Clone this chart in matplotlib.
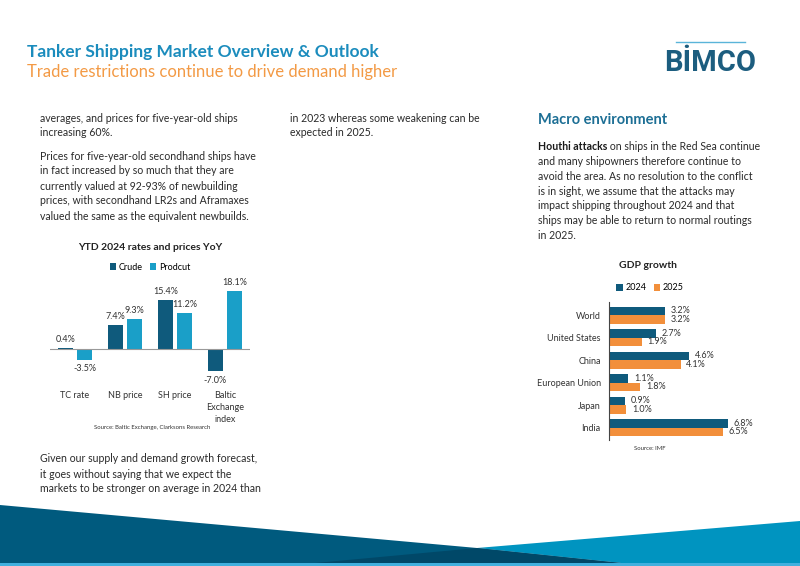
import matplotlib
matplotlib.use('Agg')
import matplotlib.pyplot as plt
from matplotlib.patches import Polygon
import numpy as np

plt.rcParams['font.family'] = ['Lato', 'DejaVu Sans']

W, H = 800, 566

# chart data
ytd_categories = ['TC rate', 'NB price', 'SH price', 'Baltic\nExchange\nindex']
ytd_crude = [0.4, 7.4, 15.4, -7.0]
ytd_product = [-3.5, 9.3, 11.2, 18.1]

gdp_regions = ['World', 'United States', 'China', 'European Union', 'Japan', 'India']
gdp_2024 = [3.2, 2.7, 4.6, 1.1, 0.9, 6.8]
gdp_2025 = [3.2, 1.9, 4.1, 1.8, 1.0, 6.5]

# page text
col1_top = ['averages, and prices for five-year-old ships',
            'increasing 60%.']
col1_par2 = ['Prices for five-year-old secondhand ships have',
             'in fact increased by so much that they are',
             'currently valued at 92-93% of newbuilding',
             'prices, with secondhand LR2s and Aframaxes',
             'valued the same as the equivalent newbuilds.']
col1_bottom = ['Given our supply and demand growth forecast,',
               'it goes without saying that we expect the',
               'markets to be stronger on average in 2024 than']
col2_top = ['in 2023 whereas some weakening can be',
            'expected in 2025.']
col3_lines = ['and many shipowners therefore continue to',
              'avoid the area. As no resolution to the conflict',
              'is in sight, we assume that the attacks may',
              'impact shipping throughout 2024 and that',
              'ships may be able to return to normal routings',
              'in 2025.']

CRUDE = '#0f5a7c'
PRODUCT = '#1a9fc8'
C2024 = '#0f5a7c'
C2025 = '#f28f3b'
BODY = '#2a2a2a'
BODY_SIZE = 7.6


def px_axes(left, top, right, bottom):
    return fig.add_axes([left / W, 1 - bottom / H, (right - left) / W, (bottom - top) / H])


fig = plt.figure(figsize=(8, 5.66), dpi=100)
bg = fig.add_axes([0, 0, 1, 1], zorder=0)
bg.set_xlim(0, W)
bg.set_ylim(H, 0)
bg.axis('off')

# footer shapes
bg.add_patch(Polygon([(0, 505), (477, 548), (650, 566), (0, 566)], closed=True, color='#005a7e', lw=0))
bg.add_patch(Polygon([(800, 521), (800, 566), (650, 566), (477, 548)], closed=True, color='#0094c0', lw=0))
bg.add_patch(Polygon([(283, 566), (477, 548), (650, 566)], closed=True, color='#004868', lw=0))
bg.add_patch(Polygon([(0, 563), (800, 563), (800, 566), (0, 566)], closed=True, color='#41b0de', lw=0))

# header
bg.text(27, 52, 'Tanker Shipping Market Overview & Outlook', fontsize=12.5, fontweight='bold',
        color='#1b8cbd', va='center', ha='left')
bg.text(27, 72, 'Trade restrictions continue to drive demand higher', fontsize=12,
        color='#f39a45', va='center', ha='left')

# logo
bg.plot([676, 745], [42, 42], color='#5ab4d9', lw=1)
bg.text(710, 63, 'BİMCO', family=['Roboto', 'DejaVu Sans'], fontsize=21,
        fontweight='bold', color='#1c5d7f', ha='center', va='center')


def body_lines(x, y0, lines, step=15):
    for i, s in enumerate(lines):
        bg.text(x, y0 + i * step, s, fontsize=BODY_SIZE, color=BODY, va='center', ha='left')


body_lines(40, 118, col1_top)
body_lines(40, 156, col1_par2)
body_lines(40, 459, col1_bottom)
body_lines(290, 118, col2_top)

bg.text(538, 120, 'Macro environment', fontsize=10.5, fontweight='bold', color='#1d6f95',
        va='center', ha='left')
r = fig.canvas.get_renderer()
t = bg.text(538, 147, 'Houthi attacks', fontsize=BODY_SIZE, fontweight='bold', color='#1a1a1a',
            va='center', ha='left')
x_end = bg.transData.inverted().transform(t.get_window_extent(renderer=r))[1][0]
bg.text(x_end, 147, ' on ships in the Red Sea continue', fontsize=BODY_SIZE, color=BODY,
        va='center', ha='left')
body_lines(538, 161.7, col3_lines, step=14.7)

# left chart: YTD rates and prices
bg.text(150, 247, 'YTD 2024 rates and prices YoY', fontsize=7.5, fontweight='bold',
        color='#222222', ha='center', va='center')
ax1 = px_axes(50, 285, 250, 380)
x = np.arange(len(ytd_categories))
b1 = ax1.bar(x - 0.19, ytd_crude, width=0.3, color=CRUDE, label='Crude')
b2 = ax1.bar(x + 0.19, ytd_product, width=0.3, color=PRODUCT, label='Prodcut')
for bars, vals in [(b1, ytd_crude), (b2, ytd_product)]:
    for bar, v in zip(bars, vals):
        ax1.annotate(f'{v:.1f}%', (bar.get_x() + bar.get_width() / 2, v),
                     xytext=(0, 3 if v >= 0 else -3), textcoords='offset points',
                     ha='center', va='bottom' if v >= 0 else 'top', fontsize=6.5, color='#333333')
ax1.axhline(0, color='#999999', lw=0.8)
ax1.set_xlim(-0.5, 3.5)
ax1.set_ylim(-9.7, 20)
ax1.set_xticks(x)
ax1.set_xticklabels(ytd_categories, fontsize=6.5, color='#333333', linespacing=1.45)
ax1.tick_params(axis='x', length=0, pad=8)
ax1.set_yticks([])
for s in ax1.spines.values():
    s.set_visible(False)
ax1.patch.set_alpha(0)
ax1.legend(loc='center', bbox_to_anchor=(150 / W, 1 - 267 / H), bbox_transform=fig.transFigure,
           ncol=2, frameon=False, fontsize=6.5, handlelength=0.7, handleheight=0.7,
           handletextpad=0.3, columnspacing=0.8)
bg.text(152, 428, 'Source: Baltic Exchange, Clarksons Research', fontsize=4.3, color='#333333',
        ha='center', va='center')

# right chart: GDP growth
bg.text(648, 266, 'GDP growth', fontsize=7.5, fontweight='bold', color='#222222',
        ha='center', va='center')
ax2 = px_axes(609, 302, 740, 440)
y = np.arange(len(gdp_regions))
h1 = ax2.barh(y - 0.19, gdp_2024, height=0.38, color=C2024, label='2024')
h2 = ax2.barh(y + 0.19, gdp_2025, height=0.38, color=C2025, label='2025')
for bars, vals in [(h1, gdp_2024), (h2, gdp_2025)]:
    for bar, v in zip(bars, vals):
        ax2.annotate(f'{v:.1f}%', (v, bar.get_y() + bar.get_height() / 2),
                     xytext=(4, 0), textcoords='offset points',
                     ha='left', va='center', fontsize=6.5, color='#333333', annotation_clip=False)
ax2.set_xlim(0, 7.5)
ax2.set_ylim(5.55, -0.58)
ax2.set_yticks(y)
ax2.set_yticklabels(gdp_regions, fontsize=6.5, color='#333333')
ax2.tick_params(axis='y', length=0, pad=6)
ax2.set_xticks([])
for k in ['top', 'right', 'bottom']:
    ax2.spines[k].set_visible(False)
ax2.spines['left'].set_color('#444444')
ax2.spines['left'].set_linewidth(0.8)
ax2.patch.set_alpha(0)
ax2.legend(loc='center', bbox_to_anchor=(650 / W, 1 - 288 / H), bbox_transform=fig.transFigure,
           ncol=2, frameon=False, fontsize=6.5, handlelength=0.7, handleheight=0.7,
           handletextpad=0.3, columnspacing=0.8)
bg.text(650, 449, 'Source: IMF', fontsize=4.3, color='#333333', ha='center', va='center')

fig.savefig('out.png', dpi=100)
